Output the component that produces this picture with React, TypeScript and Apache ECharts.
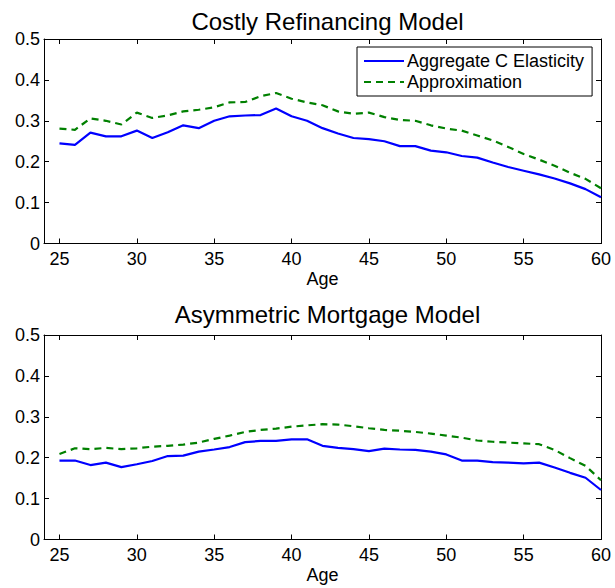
import { useEffect, useRef } from 'react';
import * as echarts from 'echarts';

const ages = [
  25, 26, 27, 28, 29, 30, 31, 32, 33, 34, 35, 36, 37, 38, 39, 40, 41, 42,
  43, 44, 45, 46, 47, 48, 49, 50, 51, 52, 53, 54, 55, 56, 57, 58, 59, 60
];

// Costly Refinancing Model
const costlyAggregate = [
  0.245, 0.241, 0.271, 0.262, 0.262, 0.276, 0.258, 0.272, 0.289, 0.282, 0.300, 0.311,
  0.313, 0.314, 0.330, 0.311, 0.300, 0.282, 0.269, 0.258, 0.255, 0.250, 0.238, 0.238,
  0.227, 0.223, 0.214, 0.210, 0.198, 0.187, 0.178, 0.169, 0.159, 0.147, 0.133, 0.113
];
const costlyApprox = [
  0.281, 0.278, 0.306, 0.300, 0.291, 0.320, 0.307, 0.313, 0.323, 0.327, 0.333, 0.345,
  0.346, 0.360, 0.368, 0.354, 0.345, 0.338, 0.323, 0.317, 0.320, 0.309, 0.302, 0.300,
  0.289, 0.281, 0.276, 0.264, 0.252, 0.236, 0.219, 0.205, 0.190, 0.173, 0.158, 0.135
];

// Asymmetric Mortgage Model
const asymAggregate = [
  0.193, 0.193, 0.182, 0.188, 0.177, 0.184, 0.192, 0.204, 0.205, 0.215, 0.220, 0.226,
  0.238, 0.241, 0.241, 0.245, 0.245, 0.229, 0.224, 0.221, 0.216, 0.222, 0.220, 0.219,
  0.215, 0.208, 0.193, 0.193, 0.189, 0.188, 0.186, 0.188, 0.176, 0.163, 0.151, 0.121
];
const asymApprox = [
  0.209, 0.223, 0.221, 0.224, 0.221, 0.223, 0.227, 0.229, 0.232, 0.237, 0.246, 0.254,
  0.263, 0.268, 0.271, 0.276, 0.279, 0.282, 0.281, 0.277, 0.272, 0.268, 0.266, 0.263,
  0.259, 0.254, 0.249, 0.242, 0.239, 0.237, 0.235, 0.233, 0.219, 0.199, 0.180, 0.145
];

const xTicks = [25, 30, 35, 40, 45, 50, 55, 60];
const titles = ['Costly Refinancing Model', 'Asymmetric Mortgage Model'];
const seriesNames = ['Aggregate C Elasticity', 'Approximation'];

const FONT = 'Liberation Sans, Arial, Helvetica, sans-serif';

export default function App() {
  const containerRef = useRef<HTMLDivElement>(null);

  useEffect(() => {
    if (!containerRef.current) return;
    const chart = echarts.init(containerRef.current, null, { renderer: 'svg' });

    const gridLeft = 44;
    const gridRight = 14;
    const gridTops = [39, 335];
    const gridHeight = 204.5;
    const centerX = gridLeft + (615 - gridLeft - gridRight) / 2;

    const tickStyle = { show: true, inside: true, length: 5, lineStyle: { color: '#000', width: 1 } };
    const lineStyle = { color: '#000', width: 1 };

    const xAxes: any[] = [];
    const yAxes: any[] = [];
    [0, 1].forEach((g) => {
      xAxes.push({
        type: 'value',
        gridIndex: g,
        min: 24,
        max: 60,
        position: 'bottom',
        name: 'Age',
        nameLocation: 'middle',
        nameGap: 26,
        nameTextStyle: { fontFamily: FONT, fontSize: 18, color: '#000' },
        axisLine: { show: true, onZero: false, lineStyle },
        axisTick: { ...tickStyle, customValues: xTicks },
        axisLabel: { customValues: xTicks, fontFamily: FONT, fontSize: 18, color: '#000', margin: 6 },
        splitLine: { show: false }
      });
      xAxes.push({
        type: 'value',
        gridIndex: g,
        min: 24,
        max: 60,
        position: 'top',
        axisLine: { show: true, onZero: false, lineStyle },
        axisTick: { ...tickStyle, customValues: xTicks },
        axisLabel: { show: false },
        splitLine: { show: false }
      });
      yAxes.push({
        type: 'value',
        gridIndex: g,
        min: 0,
        max: 0.5,
        interval: 0.1,
        position: 'left',
        axisLine: { show: true, onZero: false, lineStyle },
        axisTick: tickStyle,
        axisLabel: {
          fontFamily: FONT,
          fontSize: 18,
          color: '#000',
          margin: 4,
          formatter: (v: number) => String(Math.round(v * 10) / 10)
        },
        splitLine: { show: false }
      });
      yAxes.push({
        type: 'value',
        gridIndex: g,
        min: 0,
        max: 0.5,
        interval: 0.1,
        position: 'right',
        axisLine: { show: true, onZero: false, lineStyle },
        axisTick: tickStyle,
        axisLabel: { show: false },
        splitLine: { show: false }
      });
    });

    const pair = (vals: number[]) => ages.map((a, i) => [a, vals[i]]);
    const blueLine = { color: '#0000ff', width: 2.2 };
    const greenLine = { color: '#008000', width: 2.2, type: [7, 5] };

    const option: echarts.EChartsOption = {
      animation: false,
      backgroundColor: '#fff',
      title: titles.map((t, g) => ({
        text: t,
        left: centerX,
        top: g === 0 ? 4 : 297,
        textAlign: 'center',
        textStyle: { fontFamily: FONT, fontSize: 24, fontWeight: 'normal', color: '#000' }
      })),
      legend: {
        data: seriesNames,
        orient: 'vertical',
        left: 357,
        top: 47,
        padding: [5, 8, 5, 6],
        itemWidth: 40,
        itemHeight: 14,
        itemGap: 3,
        backgroundColor: '#fff',
        borderColor: '#000',
        borderWidth: 1,
        borderRadius: 0,
        itemStyle: { opacity: 0 },
        textStyle: { fontFamily: FONT, fontSize: 18, color: '#000', padding: [0, 0, 0, -2] }
      },
      grid: gridTops.map((top) => ({
        left: gridLeft,
        right: gridRight,
        top,
        height: gridHeight
      })),
      xAxis: xAxes,
      yAxis: yAxes,
      series: [
        { name: seriesNames[0], type: 'line', xAxisIndex: 0, yAxisIndex: 0, data: pair(costlyAggregate), symbol: 'none', lineStyle: blueLine, itemStyle: { color: '#0000ff' }, z: 3 },
        { name: seriesNames[1], type: 'line', xAxisIndex: 0, yAxisIndex: 0, data: pair(costlyApprox), symbol: 'none', lineStyle: greenLine, itemStyle: { color: '#008000' }, z: 2 },
        { name: seriesNames[0], type: 'line', xAxisIndex: 2, yAxisIndex: 2, data: pair(asymAggregate), symbol: 'none', lineStyle: blueLine, itemStyle: { color: '#0000ff' }, z: 3 },
        { name: seriesNames[1], type: 'line', xAxisIndex: 2, yAxisIndex: 2, data: pair(asymApprox), symbol: 'none', lineStyle: greenLine, itemStyle: { color: '#008000' }, z: 2 }
      ]
    };

    chart.setOption(option);
    return () => chart.dispose();
  }, []);

  return (
    <div
      ref={containerRef}
      style={{ position: 'fixed', left: 0, top: 0, width: 615, height: 588, background: '#fff' }}
    />
  );
}
